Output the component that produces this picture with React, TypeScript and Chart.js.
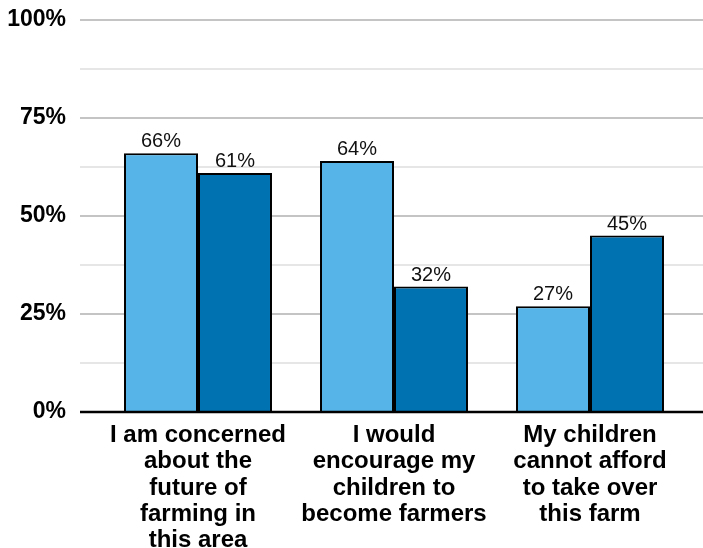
import React, { useEffect, useRef } from "react";
import { Chart, registerables } from "chart.js";

Chart.register(...registerables);

const categories: string[][] = [
  ["I am concerned", "about the", "future of", "farming in", "this area"],
  ["I would", "encourage my", "children to", "become farmers"],
  ["My children", "cannot afford", "to take over", "this farm"],
];
const seriesA: number[] = [66, 64, 27];
const seriesB: number[] = [61, 32, 45];
const yTicks: number[] = [0, 25, 50, 75, 100];
const gridValues: number[] = [0, 12.5, 25, 37.5, 50, 62.5, 75, 87.5, 100];

const FONT = "'Liberation Sans', Arial, Helvetica, sans-serif";

const gridPlugin = {
  id: "bgGrid",
  beforeDatasetsDraw(chart: any) {
    const { ctx, scales } = chart;
    const y = scales.y;
    ctx.save();
    gridValues.forEach((v) => {
      if (v === 0) return;
      const py = Math.round(y.getPixelForValue(v));
      const major = yTicks.includes(v);
      ctx.strokeStyle = major ? "#c4c4c4" : "#e6e6e6";
      ctx.lineWidth = 2;
      ctx.beginPath();
      ctx.moveTo(80, py);
      ctx.lineTo(chart.width, py);
      ctx.stroke();
    });
    ctx.restore();
  },
  afterDatasetsDraw(chart: any) {
    const { ctx, scales } = chart;
    const y = scales.y;
    ctx.save();
    const py = y.getPixelForValue(0);
    ctx.strokeStyle = "#000";
    ctx.lineWidth = 2.5;
    ctx.beginPath();
    ctx.moveTo(80, py);
    ctx.lineTo(chart.width, py);
    ctx.stroke();
    // value labels
    ctx.fillStyle = "#111";
    ctx.font = `20px ${FONT}`;
    ctx.textAlign = "center";
    ctx.textBaseline = "alphabetic";
    chart.data.datasets.forEach((ds: any, di: number) => {
      const meta = chart.getDatasetMeta(di);
      meta.data.forEach((bar: any, i: number) => {
        ctx.fillText(ds.data[i] + "%", bar.x, bar.y - 6);
      });
    });
    ctx.restore();
  },
};

export default function App() {
  const ref = useRef<HTMLCanvasElement | null>(null);
  useEffect(() => {
    document.body.style.margin = "0";
    const chart = new Chart(ref.current as HTMLCanvasElement, {
      type: "bar",
      data: {
        labels: categories as any,
        datasets: [
          {
            label: "A",
            data: seriesA,
            backgroundColor: "#56B4E9",
            borderColor: "#000",
            borderWidth: 2,
            categoryPercentage: 0.755,
            barPercentage: 1.0,
          },
          {
            label: "B",
            data: seriesB,
            backgroundColor: "#0072B2",
            borderColor: "#000",
            borderWidth: 2,
            categoryPercentage: 0.755,
            barPercentage: 1.0,
          },
        ],
      },
      options: {
        animation: false,
        responsive: false,
        maintainAspectRatio: false,
        layout: { padding: { top: 20, right: 15, left: 0, bottom: 0 } },
        plugins: { legend: { display: false }, tooltip: { enabled: false } },
        scales: {
          x: {
            grid: { display: false, drawTicks: false },
            border: { display: false },
            ticks: {
              color: "#000",
              font: { family: FONT, size: 24, weight: "bold", lineHeight: 1.1 },
              padding: 10,
              maxRotation: 0,
              minRotation: 0,
              autoSkip: false,
            },
            afterFit: (s: any) => {
              s.height = 136;
            },
          },
          y: {
            min: 0,
            max: 100,
            grid: {
              display: true,
              drawOnChartArea: false,
              drawTicks: true,
              tickLength: 34,
              color: "rgba(0,0,0,0)",
            },
            border: { display: false },
            ticks: {
              stepSize: 25,
              color: "#000",
              font: { family: FONT, size: 23, weight: "bold" },
              padding: 0,
              callback: (v: any) => v + "%",
            },
            afterFit: (s: any) => {
              s.width = 100;
            },
          },
        },
      },
      plugins: [gridPlugin],
    } as any);
    return () => chart.destroy();
  }, []);
  return (
    <div style={{ width: 703, height: 548 }}>
      <canvas ref={ref} width={703} height={548} style={{ display: "block" }} />
    </div>
  );
}
